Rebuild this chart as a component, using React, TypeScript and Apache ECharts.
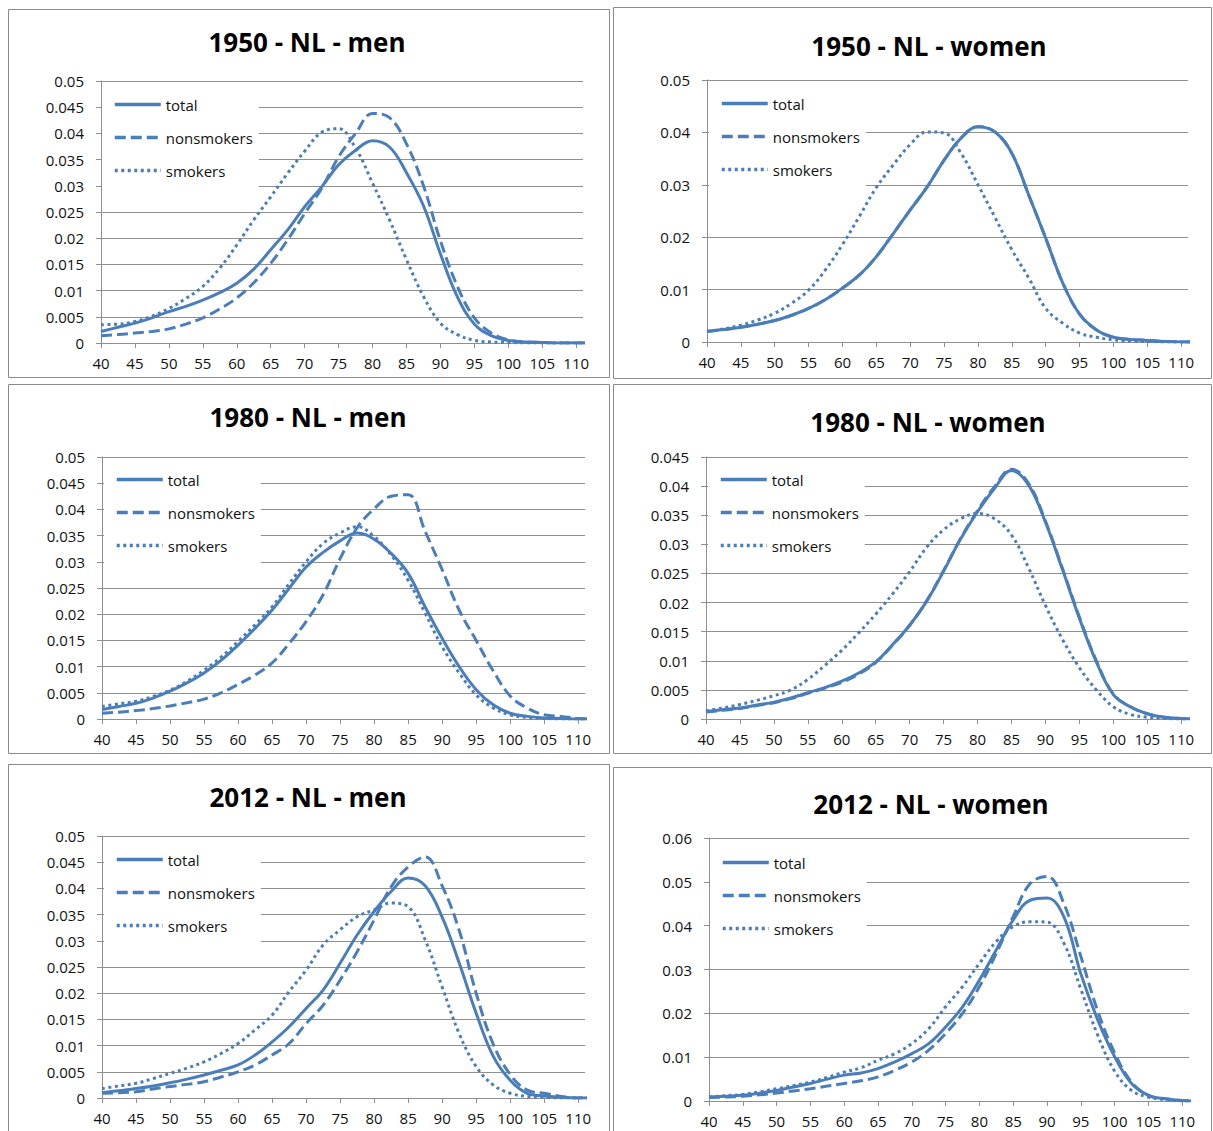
import React, { useEffect, useRef } from "react";
import * as echarts from "echarts";

// Ages at which the densities are sampled (shared by every panel); the last point lies past the axis end
const AGES = [40, 42.5, 45, 47.5, 50, 52.5, 55, 57.5, 60, 62.5, 65, 67.5, 70, 72.5, 75, 77.5, 80, 82.5, 85, 87.5, 90, 92.5, 95, 97.5, 100, 102.5, 105, 107.5, 110, 112.5];
const AGE_TICKS = [40, 45, 50, 55, 60, 65, 70, 75, 80, 85, 90, 95, 100, 105, 110];
const SERIES_NAMES = ["total", "nonsmokers", "smokers"];

// 1950 - men
const MEN_1950_TOTAL = [0.0022, 0.003, 0.0038, 0.0048, 0.006, 0.007, 0.0082, 0.0096, 0.0114, 0.0141, 0.0178, 0.0216, 0.026, 0.0298, 0.034, 0.0368, 0.0386, 0.0374, 0.0325, 0.0262, 0.017, 0.0088, 0.0036, 0.0014, 0.0005, 0.0002, 0.0001, 0, 0, 0];
const MEN_1950_NONSMOKERS = [0.0014, 0.0016, 0.0019, 0.0022, 0.0027, 0.0036, 0.0048, 0.0065, 0.0086, 0.0115, 0.0152, 0.0197, 0.0247, 0.0295, 0.0355, 0.04, 0.0438, 0.043, 0.038, 0.03, 0.0195, 0.0108, 0.0048, 0.0019, 0.0006, 0.0002, 0.0001, 0, 0, 0];
const MEN_1950_SMOKERS = [0.0035, 0.0036, 0.0041, 0.0051, 0.0066, 0.0085, 0.0108, 0.0143, 0.0187, 0.0235, 0.0279, 0.0324, 0.0366, 0.0402, 0.0409, 0.0372, 0.0305, 0.0235, 0.0159, 0.0089, 0.0038, 0.0016, 0.0005, 0.0002, 0.0001, 0, 0, 0, 0, 0];

// 1950 - women
const WOMEN_1950_TOTAL = [0.002, 0.0024, 0.0028, 0.0034, 0.0041, 0.0051, 0.0064, 0.0081, 0.0103, 0.0128, 0.0163, 0.0207, 0.0252, 0.0296, 0.0347, 0.0389, 0.0411, 0.0401, 0.036, 0.028, 0.0198, 0.0113, 0.0053, 0.0023, 0.0009, 0.0005, 0.0003, 0.0001, 0, 0];
const WOMEN_1950_NONSMOKERS = [0.002, 0.0024, 0.0028, 0.0034, 0.0041, 0.0051, 0.0064, 0.0081, 0.0103, 0.0128, 0.0163, 0.0207, 0.0252, 0.0296, 0.0347, 0.0389, 0.0411, 0.0401, 0.036, 0.028, 0.0198, 0.0113, 0.0053, 0.0023, 0.0009, 0.0005, 0.0003, 0.0001, 0, 0];
const WOMEN_1950_SMOKERS = [0.002, 0.0025, 0.0032, 0.0042, 0.0055, 0.0074, 0.0099, 0.0138, 0.0186, 0.024, 0.0295, 0.0338, 0.0377, 0.0401, 0.0399, 0.036, 0.03, 0.0238, 0.0176, 0.0122, 0.0064, 0.0036, 0.0017, 0.0009, 0.0004, 0.0002, 0.0001, 0, 0, 0];

// 1980 - men
const MEN_1980_TOTAL = [0.0018, 0.0024, 0.003, 0.004, 0.0053, 0.0069, 0.0088, 0.0112, 0.0141, 0.0173, 0.0208, 0.0249, 0.029, 0.0318, 0.034, 0.0355, 0.0343, 0.0316, 0.0278, 0.0214, 0.0154, 0.01, 0.0056, 0.0027, 0.0011, 0.0005, 0.0002, 0.0001, 0, 0];
const MEN_1980_NONSMOKERS = [0.0011, 0.0013, 0.0016, 0.002, 0.0025, 0.0031, 0.0038, 0.005, 0.0066, 0.0084, 0.0107, 0.0144, 0.0186, 0.0237, 0.0306, 0.0365, 0.0401, 0.0425, 0.0428, 0.0358, 0.0285, 0.0208, 0.015, 0.0092, 0.0044, 0.0021, 0.0008, 0.0005, 0.0001, 0];
const MEN_1980_SMOKERS = [0.0024, 0.0029, 0.0034, 0.0043, 0.0055, 0.0072, 0.0093, 0.0118, 0.0148, 0.018, 0.0214, 0.0258, 0.03, 0.0335, 0.0355, 0.0367, 0.0348, 0.0313, 0.0265, 0.0202, 0.0138, 0.0088, 0.0046, 0.0021, 0.0008, 0.0003, 0.0001, 0, 0, 0];

// 1980 - women
const WOMEN_1980_TOTAL = [0.0013, 0.0016, 0.0019, 0.0024, 0.0029, 0.0036, 0.0045, 0.0054, 0.0065, 0.0079, 0.0098, 0.0128, 0.0161, 0.0202, 0.0254, 0.0309, 0.0356, 0.0396, 0.0427, 0.0402, 0.0338, 0.0257, 0.0173, 0.0098, 0.0042, 0.0021, 0.0009, 0.0003, 0.0001, 0];
const WOMEN_1980_NONSMOKERS = [0.0012, 0.0015, 0.0018, 0.0023, 0.0028, 0.0035, 0.0044, 0.0053, 0.0063, 0.0077, 0.0097, 0.0127, 0.0161, 0.0203, 0.0255, 0.031, 0.0358, 0.0399, 0.0429, 0.0405, 0.034, 0.0259, 0.0175, 0.01, 0.0043, 0.0021, 0.0009, 0.0003, 0.0001, 0];
const WOMEN_1980_SMOKERS = [0.0014, 0.0019, 0.0025, 0.0032, 0.004, 0.005, 0.0068, 0.0092, 0.0118, 0.0148, 0.018, 0.0215, 0.0253, 0.0295, 0.0325, 0.0344, 0.0353, 0.0344, 0.0316, 0.026, 0.0195, 0.0137, 0.0088, 0.005, 0.0021, 0.0008, 0.0003, 0.0001, 0, 0];

// 2012 - men
const MEN_2012_TOTAL = [0.001, 0.0014, 0.0018, 0.0023, 0.0029, 0.0036, 0.0044, 0.0053, 0.0063, 0.0082, 0.0107, 0.0136, 0.0171, 0.0206, 0.0257, 0.0311, 0.0356, 0.0394, 0.042, 0.0405, 0.0345, 0.0258, 0.0162, 0.008, 0.0034, 0.0009, 0.0004, 0.0002, 0, 0];
const MEN_2012_NONSMOKERS = [0.0009, 0.001, 0.0012, 0.0017, 0.0022, 0.0026, 0.0031, 0.004, 0.005, 0.0063, 0.0082, 0.0104, 0.0142, 0.0177, 0.0225, 0.0279, 0.034, 0.0403, 0.0441, 0.046, 0.0405, 0.032, 0.02, 0.0103, 0.0045, 0.0015, 0.0009, 0.0003, 0, 0];
const MEN_2012_SMOKERS = [0.0018, 0.0023, 0.0028, 0.0037, 0.0047, 0.0057, 0.0069, 0.0085, 0.0104, 0.013, 0.0158, 0.0203, 0.0244, 0.0292, 0.0321, 0.0346, 0.0359, 0.0372, 0.0365, 0.0302, 0.0212, 0.0123, 0.006, 0.0025, 0.0009, 0.0003, 0.0001, 0, 0, 0];

// 2012 - women
const WOMEN_2012_TOTAL = [0.0009, 0.0011, 0.0013, 0.0018, 0.0024, 0.0032, 0.004, 0.005, 0.0059, 0.0064, 0.0074, 0.0089, 0.0108, 0.0131, 0.0169, 0.0215, 0.0276, 0.0345, 0.0413, 0.0458, 0.0463, 0.042, 0.029, 0.0185, 0.0101, 0.004, 0.0013, 0.0005, 0.0001, 0];
const WOMEN_2012_NONSMOKERS = [0.0008, 0.0009, 0.0011, 0.0014, 0.0018, 0.0023, 0.0028, 0.0034, 0.004, 0.0046, 0.0055, 0.007, 0.0089, 0.0116, 0.0154, 0.02, 0.0261, 0.0337, 0.0421, 0.0496, 0.0512, 0.045, 0.033, 0.0205, 0.011, 0.0043, 0.0013, 0.0005, 0.0001, 0];
const WOMEN_2012_SMOKERS = [0.0009, 0.0012, 0.0015, 0.0021, 0.0028, 0.0035, 0.0043, 0.0054, 0.0066, 0.0076, 0.0093, 0.0108, 0.0131, 0.0165, 0.0215, 0.0261, 0.0314, 0.0364, 0.0398, 0.0409, 0.0408, 0.036, 0.0255, 0.015, 0.0068, 0.0024, 0.0009, 0.0003, 0, 0];

const LINE_COLOR = "#4A7EBB";
const GRID_COLOR = "#8f8f8f";
const TEXT_COLOR = "#111111";
const FONT = "'Open Sans', 'Noto Sans', sans-serif";

// Layout of the six framed panels (page pixels)
const PANELS = [
  { title: "1950 - NL - men", yMax: 0.05, yStep: 0.005, series: [MEN_1950_TOTAL, MEN_1950_NONSMOKERS, MEN_1950_SMOKERS], frame: [8, 9, 601, 368], grid: [101, 81, 482, 262], titleAt: [307, 42], legendAt: [102, 89] },
  { title: "1950 - NL - women", yMax: 0.05, yStep: 0.01, series: [WOMEN_1950_TOTAL, WOMEN_1950_NONSMOKERS, WOMEN_1950_SMOKERS], frame: [613, 7, 598, 371], grid: [707, 80, 481, 262], titleAt: [929, 46], legendAt: [709, 88] },
  { title: "1980 - NL - men", yMax: 0.05, yStep: 0.005, series: [MEN_1980_TOTAL, MEN_1980_NONSMOKERS, MEN_1980_SMOKERS], frame: [8, 384, 601, 369], grid: [102, 457, 483, 262], titleAt: [308, 417], legendAt: [104, 464] },
  { title: "1980 - NL - women", yMax: 0.045, yStep: 0.005, series: [WOMEN_1980_TOTAL, WOMEN_1980_NONSMOKERS, WOMEN_1980_SMOKERS], frame: [613, 384, 598, 369], grid: [706, 457, 482, 262], titleAt: [928, 422], legendAt: [708, 464] },
  { title: "2012 - NL - men", yMax: 0.05, yStep: 0.005, series: [MEN_2012_TOTAL, MEN_2012_NONSMOKERS, MEN_2012_SMOKERS], frame: [8, 764, 601, 380], grid: [102, 836, 483, 262], titleAt: [308, 797], legendAt: [104, 844] },
  { title: "2012 - NL - women", yMax: 0.06, yStep: 0.01, series: [WOMEN_2012_TOTAL, WOMEN_2012_NONSMOKERS, WOMEN_2012_SMOKERS], frame: [613, 767, 598, 380], grid: [709, 838, 480, 263], titleAt: [931, 804], legendAt: [710, 847] },
];

const LINE_STYLES = [
  { width: 3, type: "solid" as any },
  { width: 3, type: [11, 5] as any },
  { width: 3, type: [3, 3.5] as any },
];

function buildOption() {
  const grid: any[] = [];
  const xAxis: any[] = [];
  const yAxis: any[] = [];
  const series: any[] = [];
  const legend: any[] = [];
  const graphic: any[] = [];

  PANELS.forEach((p, i) => {
    const [gx, gy, gw, gh] = p.grid;
    grid.push({ left: gx, top: gy, width: gw, height: gh, containLabel: false, outerBoundsMode: "none" });

    xAxis.push({
      type: "value",
      gridIndex: i,
      min: 40,
      max: 111,
      interval: 5,
      axisLine: { show: true, lineStyle: { color: GRID_COLOR, width: 1 } },
      axisTick: { show: true, inside: false, length: 5, lineStyle: { color: GRID_COLOR }, customValues: AGE_TICKS },
      axisLabel: {
        customValues: AGE_TICKS,
        margin: 12,
        color: TEXT_COLOR,
        fontSize: 15,
        fontFamily: FONT,
        formatter: (v: number) => (v % 5 === 0 ? String(v) : ""),
      },
      splitLine: { show: false },
    });

    yAxis.push({
      type: "value",
      gridIndex: i,
      min: 0,
      max: p.yMax,
      interval: p.yStep,
      axisLine: { show: true, lineStyle: { color: GRID_COLOR, width: 1 } },
      axisTick: { show: true, inside: false, length: 5, lineStyle: { color: GRID_COLOR } },
      axisLabel: {
        margin: 17,
        color: TEXT_COLOR,
        fontSize: 15,
        fontFamily: FONT,
        formatter: (v: number) => String(+v.toFixed(4)),
      },
      splitLine: { show: true, lineStyle: { color: GRID_COLOR, width: 1 } },
    });

    p.series.forEach((values, k) => {
      series.push({
        type: "line",
        name: SERIES_NAMES[k],
        xAxisIndex: i,
        yAxisIndex: i,
        data: AGES.map((a, j) => [a, values[j]]),
        showSymbol: false,
        symbol: "none",
        smooth: 0.4,
        silent: true,
        z: 3 + k,
        lineStyle: { color: LINE_COLOR, width: LINE_STYLES[k].width, type: LINE_STYLES[k].type },
        itemStyle: { color: LINE_COLOR, opacity: 0 },
      });
    });

    legend.push({
      data: SERIES_NAMES,
      orient: "vertical",
      left: p.legendAt[0],
      top: p.legendAt[1],
      padding: [8, 6, 13, 11],
      backgroundColor: "#ffffff",
      itemWidth: 46,
      itemHeight: 14,
      itemGap: 18,
      selectedMode: false,
      itemStyle: { opacity: 0 },
      lineStyle: { width: 3.5 },
      textStyle: { color: TEXT_COLOR, fontSize: 15, fontFamily: FONT, lineHeight: 14 },
    });

    const [fx, fy, fw, fh] = p.frame;
    graphic.push({
      type: "rect",
      silent: true,
      z: -10,
      shape: { x: fx + 0.5, y: fy + 0.5, width: fw, height: fh },
      style: { fill: "transparent", stroke: "#8a8a8a", lineWidth: 1 },
    });
    graphic.push({
      type: "text",
      silent: true,
      x: p.titleAt[0],
      y: p.titleAt[1],
      style: {
        text: p.title,
        fill: "#000000",
        fontSize: 26,
        fontWeight: "bold",
        fontFamily: FONT,
        align: "center",
        verticalAlign: "middle",
      },
    });
  });

  return {
    animation: false,
    backgroundColor: "#ffffff",
    grid,
    xAxis,
    yAxis,
    series,
    legend,
    graphic,
  };
}

export default function App() {
  const ref = useRef<HTMLDivElement>(null);

  useEffect(() => {
    if (!ref.current) return;
    const chart = echarts.init(ref.current, undefined, { renderer: "svg" });
    chart.setOption(buildOption() as any);
    return () => {
      chart.dispose();
    };
  }, []);

  return (
    <div
      ref={ref}
      style={{ position: "absolute", left: 0, top: 0, width: 1213, height: 1131, background: "#ffffff" }}
    />
  );
}
